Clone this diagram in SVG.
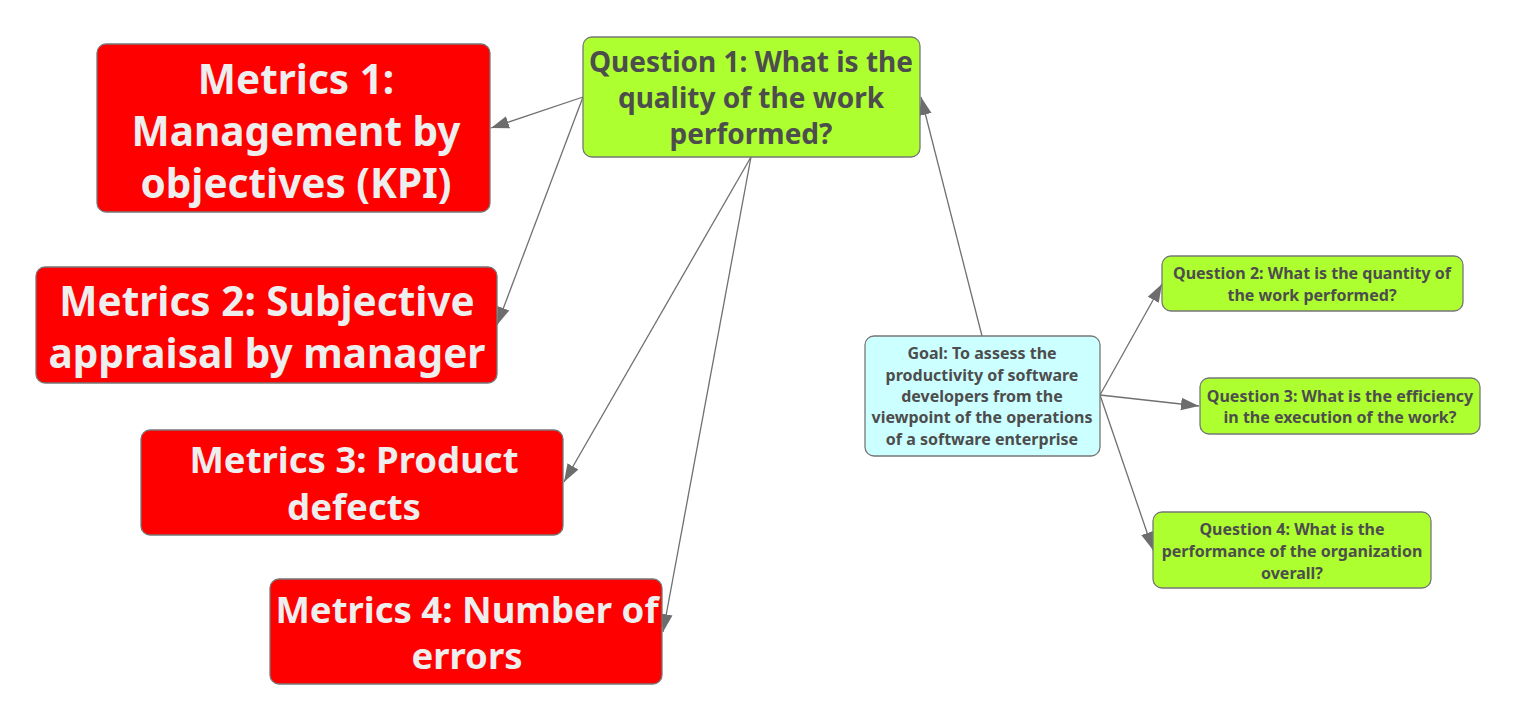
<svg xmlns="http://www.w3.org/2000/svg" width="1518" height="722" viewBox="0 0 1518 722">
<style>
.box{stroke:#777;stroke-width:1.3}
.red{fill:#ff0000}
.grn{fill:#adff2f}
.cyan{fill:#ccffff}
text{font-family:"Noto Sans","Open Sans","DejaVu Sans",sans-serif;font-weight:bold;text-anchor:middle;dominant-baseline:central}
.big{fill:#eeeeee;font-size:40.5px}
.mid{fill:#eeeeee;font-size:36.5px}
.q1{fill:#4d4d4d;font-size:28px}
.sm{fill:#4d4d4d;font-size:16px}
.edge{stroke:#707070;stroke-width:1.3;fill:none;marker-end:url(#arr)}
</style>
<defs>
<marker id="arr" viewBox="0 0 10 10" refX="10" refY="5" markerWidth="18" markerHeight="18" markerUnits="userSpaceOnUse" orient="auto">
<path d="M0,1.5 L10,5 L0,8.5 z" fill="#6d6d6d"/>
</marker>
</defs>
<g id="connectors">
<line class="edge" x1="583" y1="97" x2="491" y2="128"/>
<line class="edge" x1="583" y1="97" x2="497" y2="325"/>
<line class="edge" x1="751" y1="157" x2="564" y2="482"/>
<line class="edge" x1="751" y1="157" x2="663" y2="632"/>
<line class="edge" x1="982" y1="336" x2="921" y2="97"/>
<line class="edge" x1="1100" y1="395" x2="1162" y2="284"/>
<line class="edge" x1="1100" y1="395" x2="1199" y2="406"/>
<line class="edge" x1="1100" y1="395" x2="1153" y2="550"/>
</g>
<g id="m1">
<rect class="box red" x="97" y="44" width="393" height="168" rx="9"/>
<text class="big" x="296" y="78">Metrics 1:</text>
<text class="big" x="296" y="130">Management by</text>
<text class="big" x="296" y="182">objectives (KPI)</text>
</g>
<g id="m2">
<rect class="box red" x="36" y="267" width="461" height="116" rx="9"/>
<text class="big" x="267" y="300">Metrics 2: Subjective</text>
<text class="big" x="267" y="352">appraisal by manager</text>
</g>
<g id="m3">
<rect class="box red" x="141" y="430" width="422" height="105" rx="9"/>
<text class="mid" x="354" y="459">Metrics 3: Product</text>
<text class="mid" x="354" y="506">defects</text>
</g>
<g id="m4">
<rect class="box red" x="270" y="579" width="392" height="105" rx="9"/>
<text class="mid" x="467" y="609">Metrics 4: Number of</text>
<text class="mid" x="467" y="655">errors</text>
</g>
<g id="q1">
<rect class="box grn" x="583" y="37" width="337" height="120" rx="9"/>
<text class="q1" x="751" y="61">Question 1: What is the</text>
<text class="q1" x="751" y="97">quality of the work</text>
<text class="q1" x="751" y="133">performed?</text>
</g>
<g id="goal">
<rect class="box cyan" x="865" y="336" width="235" height="120" rx="9"/>
<text class="sm" x="982" y="353">Goal: To assess the</text>
<text class="sm" x="982" y="375">productivity of software</text>
<text class="sm" x="982" y="396">developers from the</text>
<text class="sm" x="982" y="417">viewpoint of the operations</text>
<text class="sm" x="982" y="439">of a software enterprise</text>
</g>
<g id="q2">
<rect class="box grn" x="1162" y="256" width="301" height="55" rx="9"/>
<text class="sm" x="1312" y="273">Question 2: What is the quantity of</text>
<text class="sm" x="1312" y="295">the work performed?</text>
</g>
<g id="q3">
<rect class="box grn" x="1200" y="378" width="280" height="56" rx="9"/>
<text class="sm" x="1340" y="396">Question 3: What is the efficiency</text>
<text class="sm" x="1340" y="417">in the execution of the work?</text>
</g>
<g id="q4">
<rect class="box grn" x="1153" y="512" width="278" height="76" rx="9"/>
<text class="sm" x="1292" y="529">Question 4: What is the</text>
<text class="sm" x="1292" y="551">performance of the organization</text>
<text class="sm" x="1292" y="573">overall?</text>
</g>
</svg>
